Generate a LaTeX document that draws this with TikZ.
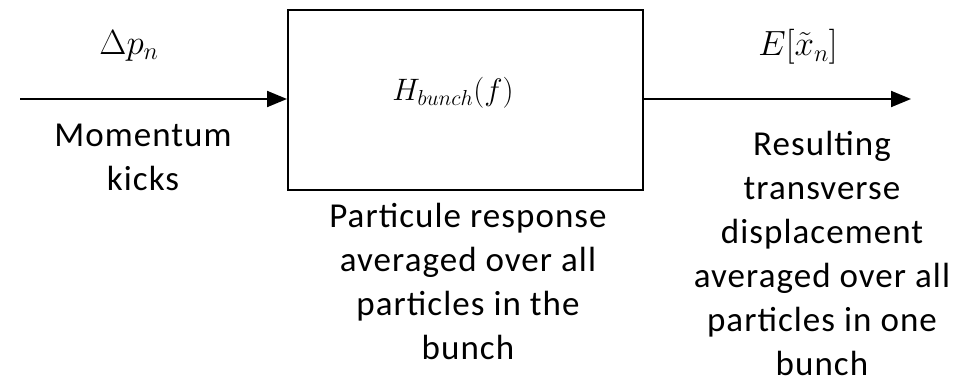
\RequirePackage{fix-cm}
\documentclass[tikz,border=0pt]{standalone}
\usepackage{amsmath}
\usepackage{fontspec}
\setmainfont{Carlito}[LetterSpace=3]
\usetikzlibrary{arrows.meta,positioning}

\tikzset{
    sigline/.style={line width=2pt, -{Triangle[length=20pt,width=16pt]}},
    caption/.style={align=center, font=\fontsize{35}{44}\selectfont},
    mathlabel/.style={font=\fontsize{35}{40}\selectfont}
}

\begin{document}
\begin{tikzpicture}[x=1pt, y=1pt]
    \useasboundingbox (0,0) rectangle (955,384);
    \node[draw, line width=2pt, minimum width=355pt, minimum height=180pt, inner sep=0pt] (bunch) at (465.5,284) {};
    \coordinate (In) at (20,285);
    \coordinate (Out) at (911,285);
    \draw[sigline] (In) -- (bunch.west |- In);
    \draw[sigline] (bunch.east |- Out) -- (Out);
    \node[font=\fontsize{31}{36}\selectfont] (H) at (453,291) {$H_{bunch}(f)$};
    \node[mathlabel] (dp) at (129,338) {$\Delta p_n$};
    \node[mathlabel] (Ex) at (798,337) {$E[\tilde{x}_n]$};
    \node[caption] (kicks) at (143,227) {Momentum\\kicks};
    \node[caption] (resp) at (468,103) {Particule response\\averaged over all\\particles in the\\bunch};
    \node[caption] (disp) at (822,131) {Resulting\\transverse\\displacement\\averaged over all\\particles in one\\bunch};
\end{tikzpicture}
\end{document}
